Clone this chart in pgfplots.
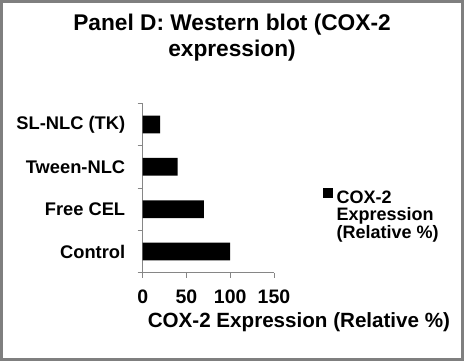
\documentclass[border=0pt]{standalone}
\usepackage{pgfplots}
\pgfplotsset{compat=1.18}
\usepackage{fontspec}
\setmainfont{Liberation Sans}
\definecolor{axgray}{HTML}{868686}
\definecolor{framegray}{HTML}{7F7F7F}
\begin{document}
\begin{tikzpicture}[x=1pt,y=1pt]
\fill[white] (0,0) rectangle (464,361);
\draw[framegray, line width=3pt] (1.5,1.5) rectangle (462.5,359.5);
\begin{axis}[
  at={(142.7pt,88.3pt)}, anchor=south west,
  scale only axis, width=131.3pt, height=169.4pt,
  xbar, bar width=0.42,
  xmin=0, xmax=150, ymin=-0.5, ymax=3.5,
  axis lines=left, axis line style={-, axgray, line width=0.8pt},
  xtick={0,50,100,150},
  ytick={-0.5,0.5,1.5,2.5,3.5}, yticklabels={},
  extra y ticks={0,1,2,3},
  extra y tick labels={Control,Free CEL,Tween-NLC,SL-NLC (TK)},
  extra y tick style={major tick length=0pt},
  tick align=outside, major tick length=5pt,
  tick style={axgray, line width=0.8pt},
  /pgf/number format/assume math mode=true,
  xticklabel style={font=\bfseries\fontsize{19.5}{20}\selectfont, yshift=-9pt},
  yticklabel style={font=\bfseries\fontsize{18.3}{20}\selectfont, xshift=-14pt},
  title={Panel D: Western blot (COX-2\\expression)},
  title style={at={(axis description cs:0.68,1.492)}, anchor=north, inner sep=0pt, align=center, font=\bfseries\fontsize{22.7}{25.7}\selectfont},
  xlabel={COX-2 Expression (Relative \%)},
  xlabel style={at={(axis description cs:1.19,-0.326)}, anchor=base, inner sep=0pt, font=\bfseries\fontsize{20.6}{24}\selectfont},
  legend style={at={(axis description cs:1.373,0.5)}, anchor=north west, draw=none, fill=none, inner sep=0pt},
  legend cell align=left,
  legend image code/.code={\fill[black] (0pt,-0.5pt) rectangle (10pt,9.5pt);},
]
\addplot[fill=black, draw=none] coordinates {(100,0) (70,1) (40,2) (20,3)};
\addlegendentry{\bfseries\fontsize{18}{17.5}\selectfont\vtop{\hbox{\kern1.5pt COX-2}\hbox{\kern1.5pt Expression}\hbox{\kern1.5pt (Relative \%)}}}
\end{axis}
\end{tikzpicture}
\end{document}
